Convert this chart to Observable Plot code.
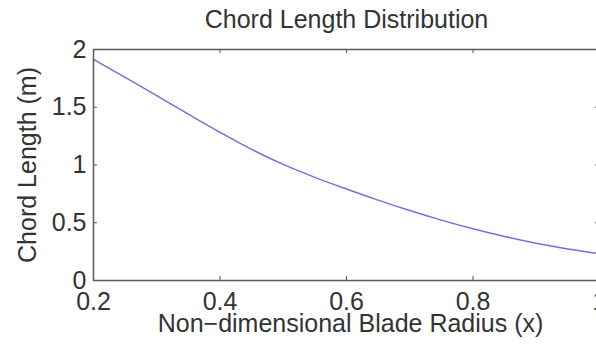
<!DOCTYPE html>
<html><head><meta charset="utf-8">
<script src="https://cdn.jsdelivr.net/npm/d3@7"></script>
<script src="https://cdn.jsdelivr.net/npm/@observablehq/plot@0.6"></script>
<style>html,body{margin:0;padding:0;overflow:hidden;background:#fff;} svg{max-width:none !important;}</style>
</head><body><div id="chart"></div>
<script>
const radius = [0.20, 0.25, 0.30, 0.35, 0.40, 0.45, 0.50, 0.55, 0.60, 0.65, 0.70, 0.75, 0.80, 0.85, 0.90, 0.95, 1.00];
const chord  = [1.915, 1.758, 1.600, 1.440, 1.283, 1.135, 1.005, 0.893, 0.792, 0.696, 0.606, 0.523, 0.448, 0.381, 0.322, 0.273, 0.232];
const xTicks = [0.2, 0.4, 0.6, 0.8, 1];
const xTickLabels = ["0.2", "0.4", "0.6", "0.8", "1"];
const yTicks = [0, 0.5, 1, 1.5, 2];
const yTickLabels = ["0", "0.5", "1", "1.5", "2"];
const title = "Chord Length Distribution";
const xLabel = "Non\u2212dimensional Blade Radius (x)";
const yLabel = "Chord Length (m)";

const data = radius.map((r, i) => ({r, c: chord[i]}));
const W = 606, H = 346, mL = 93, mR = 7, mT = 49, mB = 66;
const fw = W - mL - mR, fh = H - mT - mB;
const tk = 4;
const FS = 25;
const font = "'Liberation Sans', Arial, Helvetica, sans-serif";

const plot = Plot.plot({
  width: W, height: H,
  marginLeft: mL, marginRight: mR, marginTop: mT, marginBottom: mB,
  style: {fontFamily: font, fontSize: FS + "px", color: "#333", background: "#fff", overflow: "visible", maxWidth: "none"},
  x: {domain: [0.2, 1]},
  y: {domain: [0, 2]},
  marks: [
    Plot.line(data, {x: "r", y: "c", stroke: "#7070d8", strokeWidth: 1.4, curve: "catmull-rom"}),
    Plot.ruleX(xTicks, {insetTop: fh - tk, stroke: "#555"}),
    Plot.ruleX(xTicks, {insetBottom: fh - tk, stroke: "#555"}),
    Plot.ruleY(yTicks, {insetRight: fw - tk, stroke: "#555"}),
    Plot.ruleY(yTicks, {insetLeft: fw - tk, stroke: "#555"}),
    Plot.frame({stroke: "#5a5a5a", strokeWidth: 1.5}),
    Plot.axisX({ticks: xTicks, tickFormat: d => xTickLabels[xTicks.indexOf(d)], tickSize: 0, tickPadding: 12, label: null, fontSize: FS}),
    Plot.axisY({ticks: yTicks, tickFormat: d => yTickLabels[yTicks.indexOf(d)], tickSize: 0, tickPadding: 7, label: null, fontSize: FS}),
    Plot.text([title], {frameAnchor: "top", textAnchor: "middle", lineAnchor: "middle", dy: -29.5, fontSize: FS}),
    Plot.text([xLabel], {frameAnchor: "bottom", textAnchor: "middle", lineAnchor: "middle", dy: 43, dx: 4, fontSize: FS}),
    Plot.text([yLabel], {frameAnchor: "left", textAnchor: "middle", lineAnchor: "middle", rotate: -90, dx: -66, fontSize: FS})
  ]
});
document.getElementById("chart").appendChild(plot);
</script>
</body></html>
